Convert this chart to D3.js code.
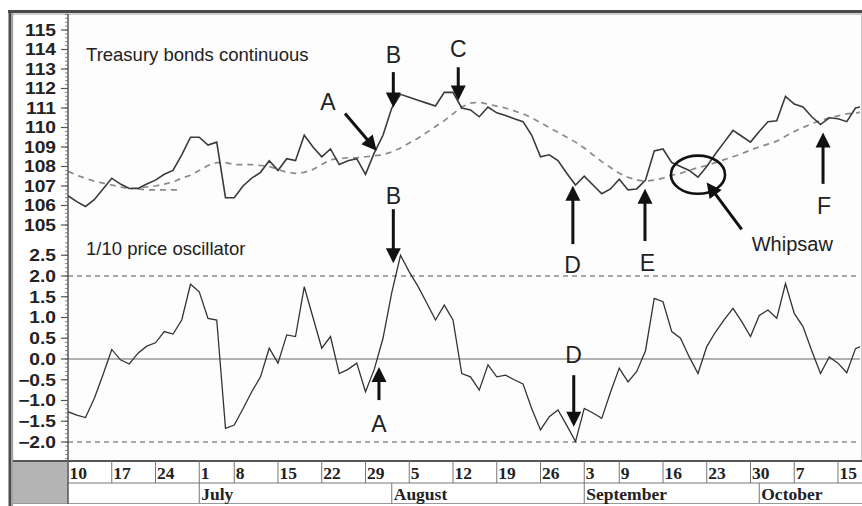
<!DOCTYPE html>
<html><head><meta charset="utf-8">
<script src="https://cdn.jsdelivr.net/npm/d3@7"></script>
<style>body{margin:0;background:#fff;} svg{display:block}</style>
</head><body><svg id="c" width="862" height="506"></svg>
<script>
// ---- data ----
const weekLabels = ["10","17","24","1","8","15","22","29","5","12","19","26","3","9","16","23","30","7","15"];
const weekIdx    = [0,5,10,15,19,24,29,34,39,44,49,54,59,63,68,73,78,83,88];
const monthLabels = ["July","August","September","October"];
const monthIdx    = [15,37,59,79];
const priceTicks = [105,106,107,108,109,110,111,112,113,114,115];
const oscTicks = [-2.0,-1.5,-1.0,-0.5,0.0,0.5,1.0,1.5,2.0,2.5];
const oscLevels = [2.0,-2.0];

const price = [106.5,106.2,105.95,106.3,106.85,107.4,107.1,106.87,106.87,107.1,
 107.3,107.6,107.8,108.6,109.5,109.5,109.1,109.25,106.4,106.4,
 107.0,107.4,107.7,108.3,107.8,108.4,108.3,109.6,109.0,108.5,
 108.9,108.1,108.3,108.4,107.6,108.7,109.6,111.0,111.7,111.55,
 111.4,111.25,111.1,111.8,111.8,111.0,110.9,110.55,111.05,110.75,
 110.62,110.45,110.3,109.6,108.5,108.6,108.3,107.65,107.05,107.5,
 107.05,106.6,106.85,107.35,106.8,106.85,107.3,108.8,108.9,108.2,
 108.0,107.8,107.45,108.0,108.65,109.25,109.85,109.55,109.25,109.8,
 110.3,110.35,111.6,111.2,111.05,110.55,110.15,110.5,110.45,110.3,
 111.0,111.1];
const movAvg = [107.75,107.55,107.4,107.25,107.15,107.05,106.95,106.87,106.9,106.95,
 107.0,107.1,107.2,107.4,107.55,107.8,108.05,108.2,108.2,108.1,
 108.1,108.1,108.05,108.0,107.85,107.7,107.65,107.7,107.85,108.1,
 108.35,108.4,108.45,108.45,108.5,108.55,108.6,108.75,108.95,109.2,
 109.45,109.75,110.05,110.35,110.7,111.05,111.25,111.3,111.2,111.1,
 111.0,110.85,110.7,110.5,110.25,110.0,109.75,109.5,109.25,108.95,
 108.6,108.25,107.95,107.65,107.45,107.3,107.25,107.3,107.4,107.55,
 107.65,107.8,107.95,108.05,108.2,108.35,108.5,108.65,108.85,109.0,
 109.15,109.3,109.55,109.8,110.0,110.2,110.35,110.5,110.6,110.7,
 110.75,110.8];
const ghostIdx = [8,9,10,11,12,13];
const ghostVals = [106.85,106.8,106.8,106.8,106.8,106.8];
const osc = [-1.27,-1.35,-1.41,-0.95,-0.38,0.23,-0.02,-0.12,0.14,0.31,
 0.39,0.66,0.60,0.94,1.8,1.62,0.98,0.94,-1.67,-1.59,
 -1.2,-0.79,-0.43,0.26,-0.10,0.58,0.54,1.74,1.0,0.26,
 0.54,-0.35,-0.25,-0.10,-0.79,-0.25,0.5,1.6,2.5,2.1,
 1.75,1.35,0.94,1.30,0.94,-0.35,-0.43,-0.75,-0.14,-0.43,
 -0.39,-0.5,-0.6,-1.2,-1.71,-1.39,-1.23,-1.6,-1.99,-1.19,
 -1.3,-1.43,-0.8,-0.22,-0.55,-0.3,0.2,1.46,1.38,0.66,
 0.50,0.05,-0.35,0.3,0.65,0.95,1.22,0.9,0.54,1.05,
 1.18,0.98,1.82,1.1,0.78,0.2,-0.35,0.05,-0.1,-0.33,
 0.25,0.34];

// annotations in data units: [index, value]
const letterTop = [{t:"A",p:[29.71,110.88]},{t:"B",p:[37.18,113.30]},{t:"C",p:[44.6,113.61]},
  {t:"B",p:[37.18,106.08]},{t:"F",p:[86.4,105.57]}];
const letterOsc = [{t:"D",p:[57.66,2.07]},{t:"E",p:[66.23,2.11]},{t:"A",p:[35.54,-1.76]},{t:"D",p:[57.77,-0.096]}];
const arrowsTop = [[[31.66,110.72],[35.28,108.81]],[[37.18,112.84],[37.18,111.03]],
  [[44.6,113.09],[44.6,111.39]],[[57.7,104.02],[57.7,107.01]],[[65.94,104.18],[65.94,106.86]],
  [[86.29,107.11],[86.29,109.74]],[[76.99,104.78],[72.99,107.18]]];
const arrowsOsc = [[[37.18,3.61],[37.18,2.31]],[[35.54,-0.99],[35.54,-0.19]],[[57.8,-0.39],[57.8,-1.63]]];

// ---- scales ----
const svg = d3.select("#c");
const x = d3.scaleLinear().domain([0,88]).range([68,838]);
const yP = d3.scaleLinear().domain([105,115]).range([225,30]);
const yO = d3.scaleLinear().domain([-2,2]).range([442,276]);
const L = 68, R = 860, T = 14, B = 461;

// frame
svg.append("rect").attr("x",0).attr("y",0).attr("width",862).attr("height",506).attr("fill","#fff");
svg.append("rect").attr("x",L).attr("y",T).attr("width",R-L).attr("height",B-T).attr("fill","#fdfdfd");
svg.append("line").attr("x1",8).attr("x2",862).attr("y1",11.5).attr("y2",11.5).attr("stroke","#4a4a4a").attr("stroke-width",3);
svg.append("line").attr("x1",12).attr("x2",862).attr("y1",14).attr("y2",14).attr("stroke","#a0a0a0").attr("stroke-width",1.2);
svg.append("line").attr("x1",10).attr("x2",10).attr("y1",10).attr("y2",506).attr("stroke","#4a4a4a").attr("stroke-width",3);
svg.append("line").attr("x1",12.6).attr("x2",12.6).attr("y1",13).attr("y2",506).attr("stroke","#a0a0a0").attr("stroke-width",1.2);
svg.append("line").attr("x1",861.5).attr("x2",861.5).attr("y1",14).attr("y2",461).attr("stroke","#c8c8c8").attr("stroke-width",1);

// clip
svg.append("defs").append("clipPath").attr("id","clip").append("rect")
  .attr("x",L).attr("y",T).attr("width",R-L).attr("height",B-T);
const plot = svg.append("g").attr("clip-path","url(#clip)");

// oscillator levels
plot.selectAll(".lvl").data(oscLevels).join("line")
  .attr("x1",L).attr("x2",R).attr("y1",d=>yO(d)).attr("y2",d=>yO(d))
  .attr("stroke","#555").attr("stroke-width",1.2).attr("stroke-dasharray","5,4");
plot.append("line").attr("x1",L).attr("x2",R).attr("y1",yO(0)).attr("y2",yO(0))
  .attr("stroke","#666").attr("stroke-width",1.2);

// lines
const lineP = d3.line().x((d,i)=>x(i)).y(d=>yP(d));
const lineO = d3.line().x((d,i)=>x(i)).y(d=>yO(d));
plot.append("path").attr("d",lineP(movAvg)).attr("fill","none").attr("stroke","#8a8a8a")
  .attr("stroke-width",1.7).attr("stroke-dasharray","6,5");
plot.append("path").attr("d",d3.line().x((d,i)=>x(ghostIdx[i])).y(d=>yP(d))(ghostVals))
  .attr("fill","none").attr("stroke","#8a8a8a").attr("stroke-width",1.7).attr("stroke-dasharray","6,5");
plot.append("path").attr("d",lineP(price)).attr("fill","none").attr("stroke","#3a3a3a").attr("stroke-width",1.6);
plot.append("path").attr("d",lineO(osc)).attr("fill","none").attr("stroke","#333").attr("stroke-width",1.3);

// left axis
const axG = svg.append("g").attr("transform",`translate(${L},0)`);
axG.append("line").attr("x1",0).attr("x2",0).attr("y1",T).attr("y2",B).attr("stroke","#555").attr("stroke-width",1.5);
const minorP = d3.range(104.4,115.81,0.2);
axG.selectAll(".mp").data(minorP).join("line").attr("x1",-3).attr("x2",0)
  .attr("y1",d=>yP(d)).attr("y2",d=>yP(d)).attr("stroke","#666").attr("stroke-width",0.8);
const minorO = d3.range(-2.4,2.81,0.1);
axG.selectAll(".mo").data(minorO).join("line").attr("x1",-3).attr("x2",0)
  .attr("y1",d=>yO(d)).attr("y2",d=>yO(d)).attr("stroke","#666").attr("stroke-width",0.8);
const fmtP = d3.format("d"), fmtO = d3.format(".1f");
function labels(ticks, scale, fmt){
  const g = axG.selectAll(null).data(ticks).join("g").attr("transform",d=>`translate(0,${scale(d)})`);
  g.append("line").attr("x1",-7).attr("x2",0).attr("stroke","#555").attr("stroke-width",1.2);
  g.append("text").attr("transform","translate(-12,0) scale(1.2,1)").attr("text-anchor","end").attr("dy","0.36em")
    .attr("font-family","Liberation Sans, Arial, sans-serif").attr("font-weight","bold").attr("font-size",16)
    .attr("fill","#222").text(d=>fmt(d));
}
labels(priceTicks, yP, fmtP);
labels(oscTicks, yO, fmtO);

// date axis
const dA = svg.append("g");
dA.append("rect").attr("x",L).attr("y",B).attr("width",862-L).attr("height",42).attr("fill","#fff");
dA.append("rect").attr("x",13).attr("y",B).attr("width",L-13).attr("height",42).attr("fill","#b4b4b4");
dA.append("line").attr("x1",13).attr("x2",862).attr("y1",B).attr("y2",B).attr("stroke","#555").attr("stroke-width",2);
dA.append("line").attr("x1",L).attr("x2",862).attr("y1",483).attr("y2",483).attr("stroke","#777").attr("stroke-width",1);
dA.append("line").attr("x1",13).attr("x2",862).attr("y1",503.5).attr("y2",503.5).attr("stroke","#999").attr("stroke-width",1);
dA.append("line").attr("x1",L).attr("x2",L).attr("y1",B).attr("y2",504).attr("stroke","#555").attr("stroke-width",1.5);
dA.selectAll(".wl").data(weekIdx).join("line").attr("x1",d=>x(d)).attr("x2",d=>x(d))
  .attr("y1",B).attr("y2",483).attr("stroke","#777").attr("stroke-width",1);
dA.selectAll(".ml").data(monthIdx).join("line").attr("x1",d=>x(d)).attr("x2",d=>x(d))
  .attr("y1",483).attr("y2",503.5).attr("stroke","#777").attr("stroke-width",1);
dA.selectAll(".wt").data(weekIdx).join("text").attr("x",d=>x(d)+1.5).attr("y",478.5)
  .attr("font-family","Liberation Serif, Times New Roman, serif").attr("font-weight","bold").attr("font-size",17.5)
  .attr("fill","#222").text((d,i)=>weekLabels[i]);
dA.selectAll(".mt").data(monthIdx).join("text").attr("x",d=>x(d)+2).attr("y",499.5)
  .attr("font-family","Liberation Serif, Times New Roman, serif").attr("font-weight","bold").attr("font-size",17.5)
  .attr("fill","#222").text((d,i)=>monthLabels[i]);

// titles
const sans = "Liberation Sans, Arial, sans-serif";
svg.append("text").attr("x",x(2.06)).attr("y",yP(113.40)).attr("font-family",sans).attr("font-size",18.5)
  .attr("fill","#222").text("Treasury bonds continuous");
svg.append("text").attr("x",x(2.06)).attr("y",yO(2.51)).attr("font-family",sans).attr("font-size",18.5)
  .attr("fill","#222").text("1/10 price oscillator");

// annotations
const ann = svg.append("g");
function letter(t,px,py){ ann.append("text").attr("x",px).attr("y",py).attr("text-anchor","middle")
  .attr("font-family",sans).attr("font-size",23).attr("fill","#222").text(t); }
letterTop.forEach(d=>letter(d.t,x(d.p[0]),yP(d.p[1])));
letterOsc.forEach(d=>letter(d.t,x(d.p[0]),yO(d.p[1])));
ann.append("text").attr("x",x(78.14)).attr("y",yO(2.60)).attr("font-family",sans).attr("font-size",20)
  .attr("fill","#222").text("Whipsaw");
function arrow(x1,y1,x2,y2){
  const dx=x2-x1, dy=y2-y1, len=Math.hypot(dx,dy), ux=dx/len, uy=dy/len, Lh=15, W=7.5;
  const bx=x2-ux*Lh, by=y2-uy*Lh;
  ann.append("line").attr("x1",x1).attr("y1",y1).attr("x2",bx+ux).attr("y2",by+uy)
    .attr("stroke","#111").attr("stroke-width",3);
  ann.append("path").attr("d",`M${x2},${y2}L${bx-uy*W},${by+ux*W}L${bx+uy*W},${by-ux*W}Z`).attr("fill","#111");
}
arrowsTop.forEach(a=>arrow(x(a[0][0]),yP(a[0][1]),x(a[1][0]),yP(a[1][1])));
arrowsOsc.forEach(a=>arrow(x(a[0][0]),yO(a[0][1]),x(a[1][0]),yO(a[1][1])));
const ellC = [72.0,107.58];
ann.append("ellipse").attr("cx",x(ellC[0])).attr("cy",yP(ellC[1]))
  .attr("rx",x(ellC[0]+3.09)-x(ellC[0])).attr("ry",yP(ellC[1]-0.98)-yP(ellC[1]))
  .attr("fill","none").attr("stroke","#111").attr("stroke-width",2.6);
</script></body></html>
